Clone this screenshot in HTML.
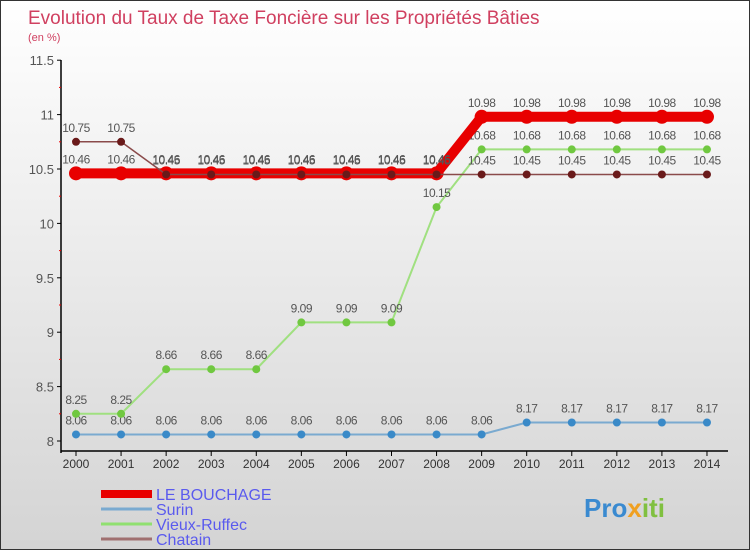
<!DOCTYPE html>
<html><head><meta charset="utf-8"><style>
body{margin:0}
#c{width:750px;height:550px;position:relative;background:linear-gradient(#ffffff,#d4d4d4);box-sizing:border-box;border:1px solid #333;overflow:hidden;font-family:"Liberation Sans","DejaVu Sans",sans-serif}
</style></head><body>
<div id="c">
<svg width="750" height="550" id="s">
<text x="27" y="23" font-size="19" fill="#d04060">Evolution du Taux de Taxe Foncière sur les Propriétés Bâties</text>
<text x="27" y="40" font-size="11" fill="#d04060">(en %)</text>
<line x1="60" y1="59" x2="60" y2="452" stroke="#000" stroke-width="1.5"/>
<line x1="60" y1="450" x2="727" y2="450" stroke="#000" stroke-width="1.5"/>
<g id="ax"></g><g id="ser"></g>
<g font-size="16" fill="#5a5aee">
<rect x="100" y="489" width="51" height="8" fill="#e80000"/><text x="155" y="499">LE BOUCHAGE</text>
<line x1="100" y1="508" x2="151" y2="508" stroke="#7aaad0" stroke-width="3"/><text x="155" y="514">Surin</text>
<line x1="100" y1="523" x2="151" y2="523" stroke="#90e070" stroke-width="3"/><text x="155" y="529">Vieux-Ruffec</text>
<line x1="100" y1="538" x2="151" y2="538" stroke="#a07070" stroke-width="3"/><text x="155" y="544">Chatain</text>
</g>
<text x="583" y="516" font-size="26" font-weight="bold" fill="#3a8ad0">Pro<tspan fill="#f0a020">x</tspan><tspan fill="#80c040">iti</tspan></text>
</svg></div>
<script>
const years=[2000,2001,2002,2003,2004,2005,2006,2007,2008,2009,2010,2011,2012,2013,2014];
const yTicks=[8,8.5,9,9.5,10,10.5,11,11.5];
const bouchage=[10.46,10.46,10.46,10.46,10.46,10.46,10.46,10.46,10.46,10.98,10.98,10.98,10.98,10.98,10.98];
const surin=[8.06,8.06,8.06,8.06,8.06,8.06,8.06,8.06,8.06,8.06,8.17,8.17,8.17,8.17,8.17];
const vieux=[8.25,8.25,8.66,8.66,8.66,9.09,9.09,9.09,10.15,10.68,10.68,10.68,10.68,10.68,10.68];
const chatain=[10.75,10.75,10.45,10.45,10.45,10.45,10.45,10.45,10.45,10.45,10.45,10.45,10.45,10.45,10.45];
const NS="http://www.w3.org/2000/svg";
const X=i=>75+i*45.07, Y=v=>440-(v-8)*108.8;
function mk(t,a,p){const e=document.createElementNS(NS,t);for(const k in a)e.setAttribute(k,a[k]);p.appendChild(e);return e;}
const ax=document.getElementById('ax'), ser=document.getElementById('ser');
yTicks.forEach(v=>{mk('line',{x1:56,x2:60,y1:Y(v),y2:Y(v),stroke:'#000'},ax);
 const t=mk('text',{x:53,y:Y(v)+5,'font-size':13,fill:'#555','text-anchor':'end'},ax);t.textContent=v;
 
 
 if(v<11.5)mk('line',{x1:58,x2:60,y1:Y(v+0.25),y2:Y(v+0.25),stroke:'#e00'},ax);});
years.forEach((y,i)=>{mk('line',{x1:X(i),x2:X(i),y1:450,y2:455,stroke:'#000'},ax);
 const t=mk('text',{x:X(i),y:467,'font-size':12,fill:'#333','text-anchor':'middle'},ax);t.textContent=y;
 
 });
function series(d,col,lw,r,dot,name){
 const g=mk('g',{},ser);
 
 
 mk('polyline',{points:d.map((v,i)=>X(i)+','+Y(v)).join(' '),fill:'none',stroke:col,'stroke-width':lw},g);
 d.forEach((v,i)=>{const c=mk('circle',{cx:X(i),cy:Y(v),r:r,fill:dot},g);
  
  
  const t=mk('text',{x:X(i),y:Y(v)-10,'font-size':12,fill:'#555','text-anchor':'middle','letter-spacing':'-0.5'},g);t.textContent=v.toFixed(2);
  
  });
}
series(surin,'#7aaad0',2,4,'#3a8ac8','surin');
series(vieux,'#a0e080',2,4,'#70c840','vieux-ruffec');
series(bouchage,'#e80000',10,7,'#e80000','le-bouchage');
series(chatain,'#8a4a4a',1.5,4,'#6a1a1a','chatain');
</script>
</body></html>
